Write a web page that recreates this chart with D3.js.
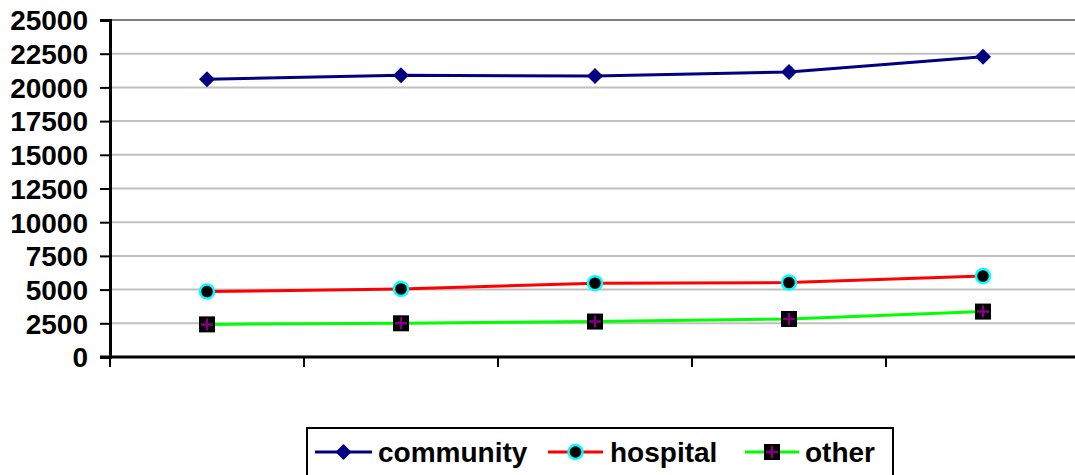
<!DOCTYPE html>
<html>
<head>
<meta charset="utf-8">
<script src="https://cdn.jsdelivr.net/npm/d3@7"></script>
<style>
  html, body { margin: 0; padding: 0; background: #fff; }
  svg { display: block; }
  text { font-family: "Liberation Sans", Arial, sans-serif; font-weight: bold; }
</style>
</head>
<body>
<svg id="chart" width="1075" height="475"></svg>
<script>
// Periods along the x axis (unlabelled on the chart)
const periods = ["P1", "P2", "P3", "P4", "P5"];

// Series values per period
const community = [20600, 20900, 20850, 21150, 22280];
const hospital  = [4850, 5050, 5480, 5520, 6000];
const other     = [2420, 2500, 2630, 2820, 3370];

const yTicks = [0, 2500, 5000, 7500, 10000, 12500, 15000, 17500, 20000, 22500, 25000];

const seriesNames = ["community", "hospital", "other"];

const svg = d3.select("#chart");
const plotLeft = 110, plotRight = 1080, plotTop = 20, plotBottom = 357;

const x = d3.scaleBand().domain(periods).range([plotLeft, plotRight]);
const y = d3.scaleLinear().domain([0, 25000]).range([plotBottom, plotTop]);

// Horizontal gridlines
svg.append("g")
  .selectAll("line")
  .data(yTicks.filter(d => d > 0))
  .join("line")
  .attr("x1", plotLeft).attr("x2", plotRight)
  .attr("y1", d => y(d)).attr("y2", d => y(d))
  .attr("stroke", d => d === 25000 ? "#808080" : "#c0c0c0")
  .attr("stroke-width", 2);

// Y axis
const yAxis = svg.append("g")
  .attr("transform", `translate(${plotLeft},0)`)
  .call(d3.axisLeft(y).tickValues(yTicks).tickSize(10).tickPadding(12).tickFormat(d3.format("d")));
yAxis.select(".domain").attr("stroke", "#000").attr("stroke-width", 3);
yAxis.selectAll(".tick line").attr("stroke", "#000").attr("stroke-width", 2);
yAxis.selectAll(".tick text")
  .attr("font-size", 28).attr("fill", "#000")
  .attr("font-family", "'Liberation Sans', Arial, sans-serif")
  .attr("font-weight", "bold")
  .attr("dy", "0.35em");

// X axis: ticks at category boundaries, no labels
const bounds = periods.map(p => x(p)).concat([x(periods[periods.length - 1]) + x.bandwidth()]);
const xAxisG = svg.append("g");
xAxisG.append("line")
  .attr("x1", plotLeft - 10).attr("x2", plotRight)
  .attr("y1", plotBottom).attr("y2", plotBottom)
  .attr("stroke", "#000").attr("stroke-width", 3);
xAxisG.selectAll("line.tick")
  .data(bounds)
  .join("line")
  .attr("class", "tick")
  .attr("x1", d => d).attr("x2", d => d)
  .attr("y1", plotBottom).attr("y2", plotBottom + 10)
  .attr("stroke", "#000").attr("stroke-width", 2);

const cx = p => x(p) + x.bandwidth() / 2;

const styles = {
  community: { color: "#000080", values: community },
  hospital:  { color: "#ff0000", values: hospital },
  other:     { color: "#00ff00", values: other }
};

function drawMarker(g, name, px, py) {
  if (name === "community") {
    g.append("path")
      .attr("d", `M${px},${py - 8}L${px + 8},${py}L${px},${py + 8}L${px - 8},${py}Z`)
      .attr("fill", "#000080");
  } else if (name === "hospital") {
    g.append("circle")
      .attr("cx", px).attr("cy", py).attr("r", 7)
      .attr("fill", "#000").attr("stroke", "#00ffff").attr("stroke-width", 2.5);
  } else {
    g.append("rect")
      .attr("x", px - 8).attr("y", py - 8).attr("width", 16).attr("height", 16)
      .attr("fill", "#000");
    g.append("path")
      .attr("d", `M${px - 6},${py}H${px + 6}M${px},${py - 6}V${py + 6}`)
      .attr("stroke", "#800080").attr("stroke-width", 2.5);
  }
}

const line = d3.line().x((d, i) => cx(periods[i])).y(d => y(d));

seriesNames.forEach(name => {
  const s = styles[name];
  svg.append("path")
    .datum(s.values)
    .attr("d", line)
    .attr("fill", "none")
    .attr("stroke", s.color)
    .attr("stroke-width", 3);
  const mg = svg.append("g");
  s.values.forEach((v, i) => drawMarker(mg, name, cx(periods[i]), y(v)));
});

// Legend
const legend = svg.append("g");
legend.append("rect")
  .attr("x", 307).attr("y", 428).attr("width", 586).attr("height", 60)
  .attr("fill", "#fff").attr("stroke", "#000").attr("stroke-width", 2);

const legendItems = [
  { name: "community", lx1: 315, lx2: 372, tx: 378 },
  { name: "hospital",  lx1: 548, lx2: 603, tx: 610 },
  { name: "other",     lx1: 745, lx2: 799, tx: 805 }
];
const ly = 452;
legendItems.forEach(it => {
  legend.append("line")
    .attr("x1", it.lx1).attr("x2", it.lx2).attr("y1", ly).attr("y2", ly)
    .attr("stroke", styles[it.name].color).attr("stroke-width", 3);
  drawMarker(legend, it.name, (it.lx1 + it.lx2) / 2, ly);
  legend.append("text")
    .attr("x", it.tx).attr("y", ly).attr("dy", "0.35em")
    .attr("font-size", 28).attr("fill", "#000")
    .text(it.name);
});
</script>
</body>
</html>
